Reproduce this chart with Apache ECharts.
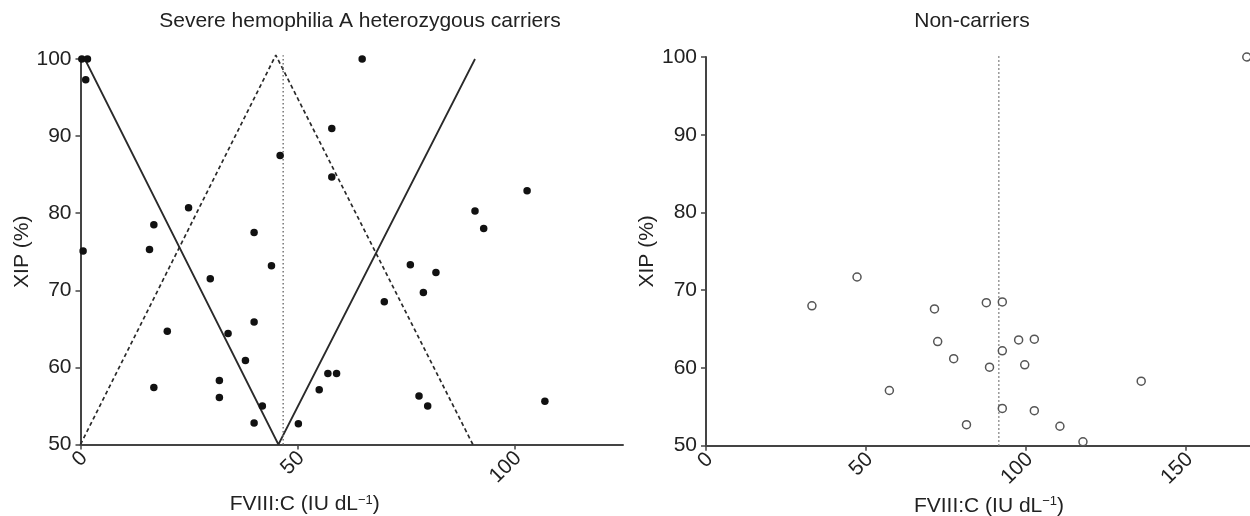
<!DOCTYPE html>
<html>
<head>
<meta charset="utf-8">
<script src="https://cdn.jsdelivr.net/npm/echarts@6/dist/echarts.min.js"></script>
<style>
html,body{margin:0;padding:0;background:#fff;}
#chart{width:1250px;height:516px;}
</style>
</head>
<body>
<div id="chart"></div>
<script>
// ---- Data ----
const titles = ['Severe hemophilia A heterozygous carriers', 'Non-carriers'];
const yTicks = [50, 60, 70, 80, 90, 100];
const xTicksCarriers = [0, 50, 100];
const xTicksNon = [0, 50, 100, 150];

// Carriers: FVIII:C (x) and XIP (y)
const carrierX = [0.3, 1.6, 1.2, 46.0, 24.9, 16.9, 40.0, 0.6, 15.9, 64.9, 57.9, 57.9, 102.9, 90.9, 92.9,
  44.0, 29.9, 40.0, 20.0, 34.0, 38.0, 32.0, 16.9, 32.0, 41.9, 40.0, 50.2, 55.0, 76.0, 81.9, 79.0, 70.0,
  57.0, 59.0, 78.0, 80.0, 107.0];
const carrierY = [100, 100, 97.3, 87.5, 80.7, 78.5, 77.5, 75.1, 75.3, 100, 91.0, 84.7, 82.9, 80.3, 78.0,
  73.2, 71.5, 65.9, 64.7, 64.4, 60.9, 58.3, 57.4, 56.1, 55.0, 52.8, 52.7, 57.1, 73.3, 72.3, 69.7, 68.5,
  59.2, 59.2, 56.3, 55.0, 55.6];

// Non-carriers
const nonX = [33.1, 47.2, 57.3, 71.4, 72.4, 77.4, 81.4, 87.6, 88.6, 92.6, 92.6, 92.6, 97.7, 102.6, 99.6,
  102.6, 110.6, 117.8, 136.0, 169.0];
const nonY = [68.0, 71.7, 57.1, 67.6, 63.4, 61.2, 52.7, 68.4, 60.1, 68.5, 62.2, 54.8, 63.6, 63.7, 60.4,
  54.5, 52.5, 50.5, 58.3, 100.0];

// Reference lines (carriers)
const solidLineX = [1.0, 45.6, 90.9];
const solidLineY = [100, 50, 100];
const dashedLineX = [0, 45.0, 90.4];
const dashedLineY = [50, 100.5, 50];
const dottedCarrierX = [46.7, 46.7];
const dottedCarrierY = [50, 100.5];
// Reference line (non-carriers)
const dottedNonX = [91.5, 91.5];
const dottedNonY = [50, 100.2];

// ---- Helpers ----
const zip = (xs, ys) => xs.map((x, i) => [x, ys[i]]);
const FONT = "'Liberation Sans', Arial, Helvetica, sans-serif";
const TXT = '#222';
const AX = '#444';

function xAxisCfg(gridIndex, max, ticks, namePad) {
  return {
    type: 'value', gridIndex, min: 0, max,
    name: '{a|FVIII:C (IU dL}{s|\u22121}{a|)}',
    nameLocation: 'middle', nameGap: 46,
    nameTextStyle: {
      padding: namePad,
      rich: {
        a: {fontSize: 21, fontFamily: FONT, color: TXT},
        s: {fontSize: 13, fontFamily: FONT, color: TXT, verticalAlign: 'top'}
      }
    },
    axisLine: {show: true, onZero: false, lineStyle: {color: AX, width: 2}},
    axisTick: {show: true, inside: false, length: 5, customValues: ticks, lineStyle: {color: AX, width: 1.5}},
    axisLabel: {show: true, rotate: 45, margin: 14, padding: [0, -5, 0, 0], customValues: ticks,
      fontSize: 21, fontFamily: FONT, color: TXT},
    splitLine: {show: false}
  };
}
function yAxisCfg(gridIndex) {
  return {
    type: 'value', gridIndex, min: 50, max: 100, interval: 10,
    name: 'XIP (%)', nameLocation: 'middle', nameGap: 46, nameRotate: 90,
    nameTextStyle: {fontSize: 21, fontFamily: FONT, color: TXT},
    axisLine: {show: true, onZero: false, lineStyle: {color: AX, width: 2}},
    axisTick: {show: true, inside: false, length: 5, customValues: yTicks, lineStyle: {color: AX, width: 1.5}},
    axisLabel: {show: true, margin: 9, customValues: yTicks, fontSize: 21, fontFamily: FONT, color: TXT},
    splitLine: {show: false}
  };
}

const chart = echarts.init(document.getElementById('chart'), null, {renderer: 'canvas'});
chart.setOption({
  animation: false,
  backgroundColor: '#fff',
  title: [
    {text: titles[0], left: 355, top: 6, textAlign: 'center',
     textStyle: {fontSize: 21, fontWeight: 'normal', fontFamily: FONT, color: TXT}},
    {text: titles[1], left: 967, top: 6, textAlign: 'center',
     textStyle: {fontSize: 21, fontWeight: 'normal', fontFamily: FONT, color: TXT}}
  ],
  grid: [
    {left: 80.5, top: 59, width: 542.5, height: 385.5, containLabel: false, outerBoundsMode: 'none'},
    {left: 706, top: 57, width: 544, height: 388.7, containLabel: false, outerBoundsMode: 'none'}
  ],
  xAxis: [
    xAxisCfg(0, 125, xTicksCarriers, [0, 94, 0, 0]),
    xAxisCfg(1, 170, xTicksNon, [0, 0, 0, 22])
  ],
  yAxis: [yAxisCfg(0), yAxisCfg(1)],
  series: [
    {type: 'line', xAxisIndex: 0, yAxisIndex: 0, data: zip(solidLineX, solidLineY), showSymbol: false, clip: false,
     lineStyle: {color: '#2a2a2a', width: 1.8, type: 'solid'}, z: 2},
    {type: 'line', xAxisIndex: 0, yAxisIndex: 0, data: zip(dashedLineX, dashedLineY), showSymbol: false, clip: false,
     lineStyle: {color: '#2a2a2a', width: 1.7, type: [4, 3]}, z: 2},
    {type: 'line', xAxisIndex: 0, yAxisIndex: 0, data: zip(dottedCarrierX, dottedCarrierY), showSymbol: false, clip: false,
     lineStyle: {color: '#777', width: 1.5, type: [1.5, 2.5]}, z: 2},
    {type: 'scatter', xAxisIndex: 0, yAxisIndex: 0, data: zip(carrierX, carrierY), symbol: 'circle', symbolSize: 7.5, clip: false,
     itemStyle: {color: '#111', opacity: 1}, z: 3},
    {type: 'line', xAxisIndex: 1, yAxisIndex: 1, data: zip(dottedNonX, dottedNonY), showSymbol: false, clip: false,
     lineStyle: {color: '#777', width: 1.5, type: [1.5, 2.5]}, z: 2},
    {type: 'scatter', xAxisIndex: 1, yAxisIndex: 1, data: zip(nonX, nonY), symbol: 'circle', symbolSize: 8, clip: false,
     itemStyle: {color: '#fff', borderColor: '#555', borderWidth: 1.5, opacity: 1}, z: 3}
  ]
});
</script>
</body>
</html>
